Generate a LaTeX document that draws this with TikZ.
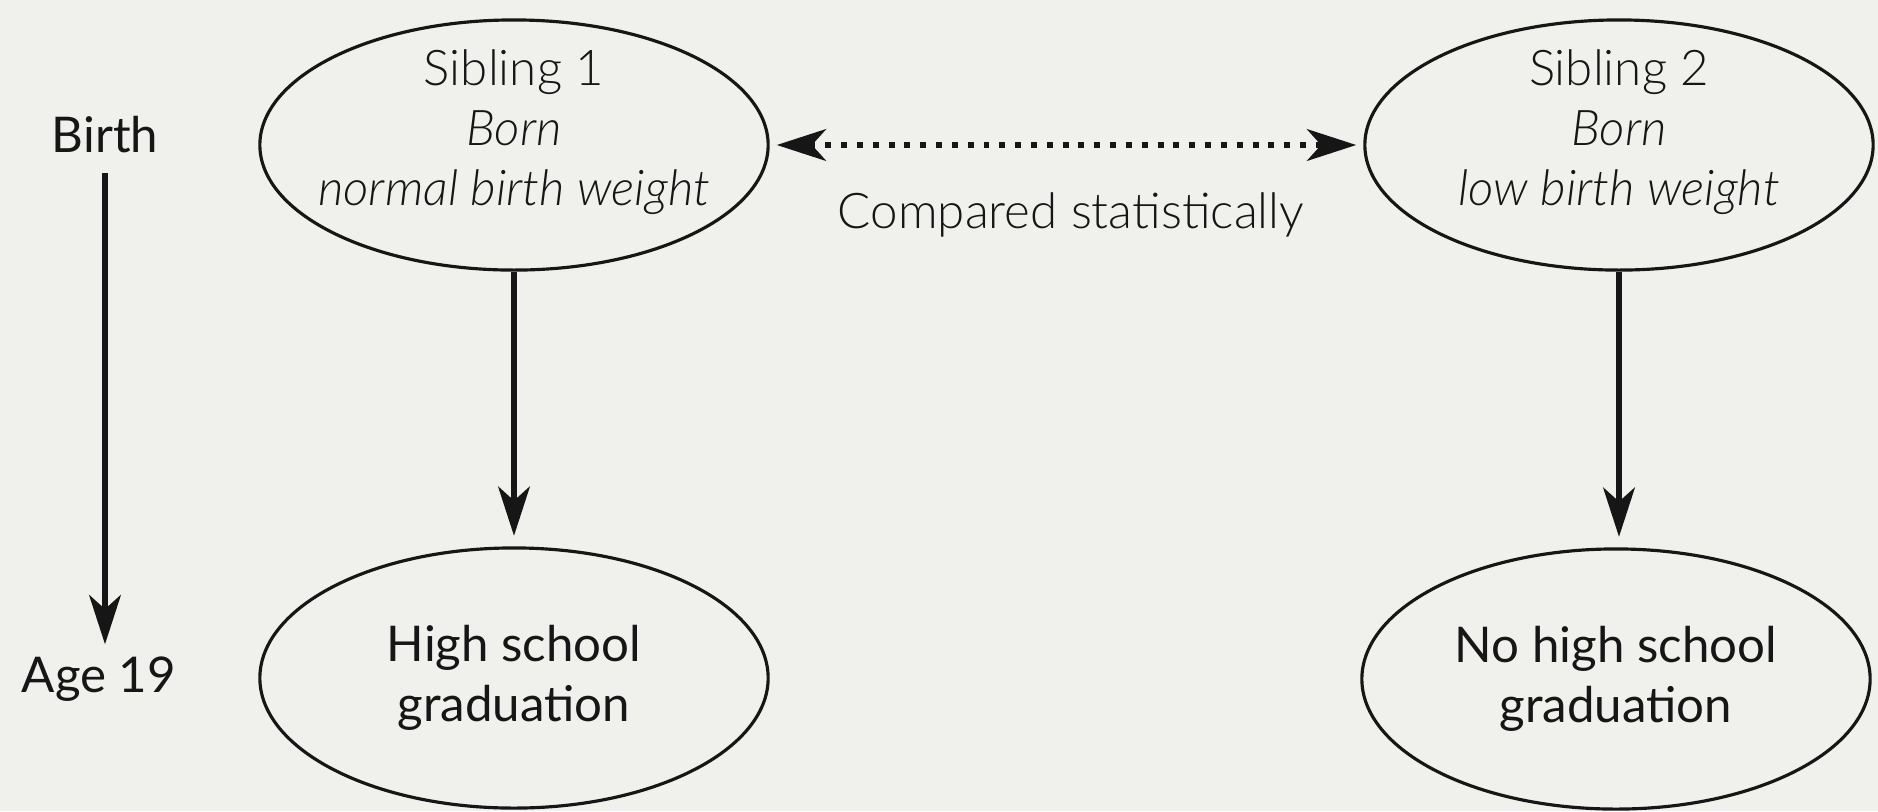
\documentclass[tikz,border=0pt]{standalone}
\usepackage{fontspec}
\setmainfont{Lato}
\newfontfamily\lightfont{Lato Light}[ItalicFont={Lato Light Italic}]
\usetikzlibrary{shapes.geometric,arrows.meta}
\definecolor{paper}{RGB}{240,240,237}
\definecolor{ink}{RGB}{22,22,22}

\begin{document}
\begin{tikzpicture}[x=0.01cm,y=-0.01cm,
      oval/.style={draw=ink, line width=0.9pt, ellipse, inner sep=0pt,
                   minimum width=5.08cm, minimum height=2.5cm},
      lbl/.style={text=ink, align=center, font=\fontsize{14}{17}\selectfont},
      thin lbl/.style={lbl, font=\lightfont\fontsize{14}{17}\selectfont},
      flow/.style={draw=ink, line width=1.6pt, shorten >=3pt,
                   -{Stealth[length=14pt,width=9pt,inset=4pt]}},
      compare/.style={draw=ink, line width=1.7pt, dash pattern=on 1.7pt off 2.8pt,
                   shorten <=2pt, shorten >=2pt,
                   {Stealth[length=14pt,width=9pt,inset=4pt]}-{Stealth[length=14pt,width=9pt,inset=4pt]}}]
      \fill[paper] (0,0) rectangle (1878,811);
      % time line
      \node[lbl] (birth) at (105,135) {Birth};
      \node[lbl] (age) at (99,679) {Age 19};
      \draw[flow, shorten <=2pt, shorten >=0pt] (birth.south) -- (birth.south |- age.north);
      % the two siblings
      \node[oval] (sib1) at (514,145) {};
      \node[oval] (sib2) at (1619,145) {};
      \node[thin lbl] (sib1text) at (514,132) {Sibling 1\\ \textit{Born}\\ \textit{normal birth weight}};
      \node[thin lbl] (sib2text) at (1619,132) {Sibling 2\\ \textit{Born}\\ \textit{low birth weight}};
      % outcomes
      \node[oval, minimum height=2.6cm] (grad1) at (514,678) {};
      \node[oval, minimum height=2.6cm] (grad2) at (1616,679) {};
      \node[lbl] (grad1text) at (514,678) {High school\\graduation};
      \node[lbl] (grad2text) at (1616,679) {No high school\\graduation};
      \draw[flow] (sib1) -- (grad1);
      \draw[flow] (sib2.south) -- (sib2.south |- grad2.north);
      % comparison
      \draw[compare] (sib1) -- (sib2);
      \node[thin lbl] (cmp) at (1071,215) {Compared statistically};
\end{tikzpicture}
\end{document}
